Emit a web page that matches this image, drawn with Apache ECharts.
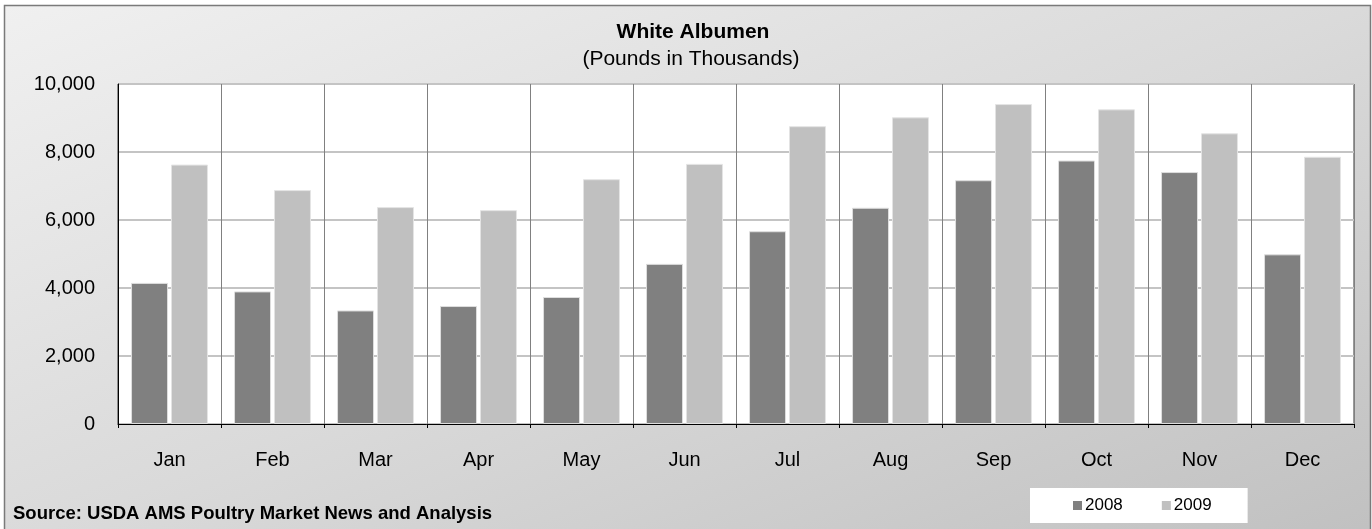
<!DOCTYPE html>
<html>
<head>
<meta charset="utf-8">
<script src="https://cdn.jsdelivr.net/npm/echarts@6/dist/echarts.min.js"></script>
<style>
html,body{margin:0;padding:0;background:#fff;}
#chart{width:1372px;height:529px;}
</style>
</head>
<body>
<div id="chart"></div>
<script>
const months = ['Jan','Feb','Mar','Apr','May','Jun','Jul','Aug','Sep','Oct','Nov','Dec'];
const values2008 = [4150, 3900, 3340, 3470, 3735, 4710, 5670, 6360, 7170, 7750, 7410, 4990];
const values2009 = [7630, 6880, 6380, 6290, 7200, 7650, 8760, 9020, 9410, 9255, 8550, 7860];
const seriesNames = ['2008', '2009'];
const yTicks = [0, 2000, 4000, 6000, 8000, 10000];

const FONT = '"Liberation Sans", Arial, Helvetica, sans-serif';
const chart = echarts.init(document.getElementById('chart'), null, {renderer: 'canvas'});
chart.setOption({
  backgroundColor: '#ffffff',
  animation: false,
  graphic: [{
    type: 'rect', z: -10, silent: true,
    shape: {x: 4.5, y: 5.5, width: 1366, height: 540},
    style: {
      fill: new echarts.graphic.LinearGradient(4, 5, 373, 939, [
        {offset: 0, color: '#f0f0f0'},
        {offset: 0.5, color: '#dadada'},
        {offset: 1, color: '#c0c0c0'}
      ], true),
      stroke: '#7a7a7a', lineWidth: 1.5
    }
  }],
  title: [
    {text: 'White Albumen', left: 688, top: 17, textAlign: 'center', textVerticalAlign: 'top',
     textStyle: {fontFamily: FONT, fontSize: 21, fontWeight: 'bold', color: '#000'}},
    {text: '(Pounds in Thousands)', left: 686, top: 44, textAlign: 'center', textVerticalAlign: 'top',
     textStyle: {fontFamily: FONT, fontSize: 21, fontWeight: 'normal', color: '#000'}},
    {text: 'Source: USDA AMS Poultry Market News and Analysis', left: 8, top: 499, textAlign: 'left', textVerticalAlign: 'top',
     textStyle: {fontFamily: FONT, fontSize: 18.5, fontWeight: 'bold', color: '#000'}}
  ],
  legend: {
    data: seriesNames,
    left: 1030, top: 488,
    padding: [9, 36, 9, 43],
    backgroundColor: '#ffffff',
    icon: 'rect', itemWidth: 9, itemHeight: 9, itemGap: 39,
    itemStyle: {borderWidth: 0},
    textStyle: {fontFamily: FONT, fontSize: 17, color: '#000', padding: [0, 0, 0, -2]}
  },
  grid: {
    left: 118, right: 18, top: 84, bottom: 105,
    show: true, backgroundColor: '#ffffff', borderColor: '#333', borderWidth: 1,
    containLabel: false
  },
  xAxis: {
    type: 'category', data: months, boundaryGap: true,
    axisLine: {lineStyle: {color: '#000', width: 1}},
    axisTick: {show: true, length: 4, lineStyle: {color: '#000'}},
    axisLabel: {fontFamily: FONT, fontSize: 20, color: '#000', margin: 26},
    splitLine: {show: true, interval: 0, lineStyle: {color: '#808080', width: 1}}
  },
  yAxis: {
    type: 'value', min: yTicks[0], max: yTicks[yTicks.length - 1], interval: 2000,
    axisLine: {show: true, lineStyle: {color: '#000', width: 1}},
    axisTick: {show: false},
    axisLabel: {fontFamily: FONT, fontSize: 20, color: '#000', margin: 23,
      formatter: v => v.toLocaleString('en-US')},
    splitLine: {show: true, lineStyle: {color: '#c4c4c4', width: 2}}
  },
  series: [
    {name: seriesNames[0], type: 'bar', data: values2008, barWidth: 37, barGap: '8%',
     itemStyle: {color: '#808080', borderColor: '#dedede', borderWidth: 1}},
    {name: seriesNames[1], type: 'bar', data: values2009, barWidth: 37,
     itemStyle: {color: '#c0c0c0', borderColor: '#e4e4e4', borderWidth: 1}}
  ]
});
</script>
</body>
</html>
